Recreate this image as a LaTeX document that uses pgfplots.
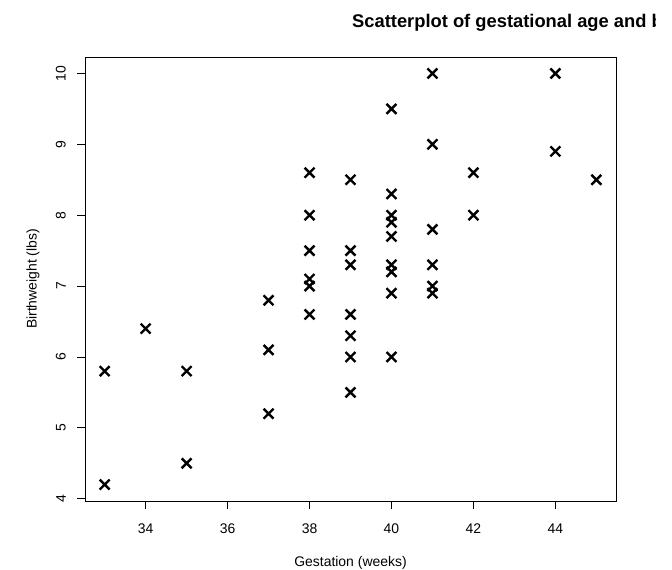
\documentclass[border=0pt]{standalone}
\usepackage{pgfplots}
\pgfplotsset{compat=1.18}
\usepackage{fontspec}
\setmainfont{Liberation Sans}
\begin{document}
\begin{tikzpicture}
\path[use as bounding box] (0,0) rectangle (672bp,570bp);
\begin{axis}[
  at={(85bp,69bp)}, anchor=south west,
  scale only axis, width=531bp, height=444bp,
  xmin=32.52, xmax=45.48, ymin=3.968, ymax=10.232,
  xtick={34,36,38,40,42,44}, ytick={4,5,6,7,8,9,10},
  xtick pos=lower, ytick pos=left, tick align=outside,
  major tick length=8bp,
  every tick/.style={black, line width=0.8bp},
  axis line style={black, line width=0.8bp},
  /pgf/number format/assume math mode=true,
  tick label style={font=\fontsize{14}{16}\selectfont},
  yticklabel style={rotate=90, anchor=south, inner sep=0pt, yshift=11bp},
  xticklabel style={anchor=north, inner sep=0pt, yshift=-15bp},
  label style={font=\fontsize{14}{16}\selectfont},
  xlabel={Gestation (weeks)},
  ylabel={Birthweight (lbs)},
  xlabel style={at={(axis description cs:0.5,0)}, anchor=center, yshift=-62bp},
  ylabel style={at={(axis description cs:0,0.5)}, anchor=center, yshift=52bp},
  clip=false,
]
\addplot[only marks, mark=x, mark size=7bp, line width=2.4bp, black] coordinates {
(33,5.8) (33,4.2)
(34,6.4)
(35,5.8) (35,4.5)
(37,6.8) (37,6.1) (37,5.2)
(38,8.6) (38,8.0) (38,7.5) (38,7.1) (38,7.0) (38,6.6)
(39,8.5) (39,7.5) (39,7.3) (39,6.6) (39,6.3) (39,6.0) (39,5.5)
(40,9.5) (40,8.3) (40,8.0) (40,7.9) (40,7.7) (40,7.3) (40,7.2) (40,6.9) (40,6.0)
(41,10.0) (41,9.0) (41,7.8) (41,7.3) (41,7.0) (41,6.9)
(42,8.6) (42,8.0)
(44,10.0) (44,8.9)
(45,8.5)
};
\end{axis}
\begin{scope}
\clip (340bp,520bp) rectangle (655bp,570bp);
\node[anchor=base west, inner sep=0pt, font=\fontsize{18.4}{20}\selectfont\bfseries] at (352bp,542bp) {Scatterplot of gestational age and birthweight};
\end{scope}
\end{tikzpicture}
\end{document}
